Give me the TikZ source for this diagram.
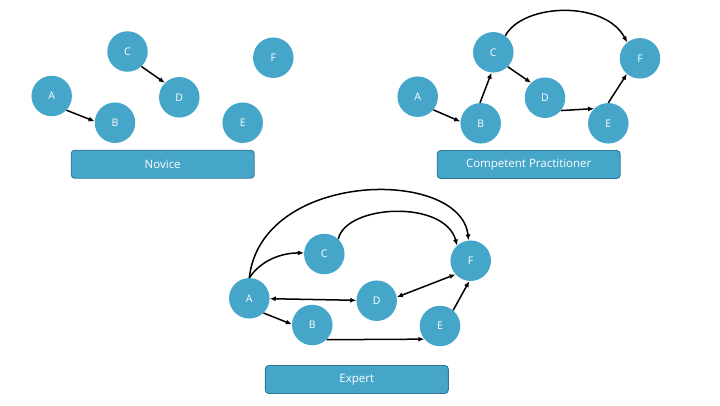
\documentclass[tikz,border=0pt]{standalone}
\usepackage{fontspec}
\setmainfont{Open Sans}
\usetikzlibrary{arrows.meta}
\definecolor{nodeblue}{HTML}{46A6C9}
\definecolor{boxborder}{HTML}{2F7896}
\tikzset{
  vtx/.style={circle, fill=nodeblue, minimum size=40.5pt, inner sep=0pt, text=white, font=\fontsize{10.5}{12}\selectfont},
  levelbox/.style={rectangle, rounded corners=3.5pt, fill=nodeblue, draw=boxborder, line width=0.9pt, minimum width=183pt, minimum height=28pt, inner sep=0pt, text=white, font=\fontsize{11.5}{13}\selectfont},
  link/.style={line width=1.5pt, -{Latex[length=6pt,width=5pt]}},
  dlink/.style={line width=1.5pt, {Latex[length=6pt,width=5pt]}-{Latex[length=6pt,width=5pt]}}
}
\begin{document}
\begin{tikzpicture}[x=1pt,y=-1pt]
\useasboundingbox (0,0) rectangle (720,405);
% Novice
\node[vtx] (A1) at (51.7,96) {A};
\node[vtx] (B1) at (115,122.7) {B};
\node[vtx] (C1) at (127.5,51.5) {C};
\node[vtx] (D1) at (179.3,97.3) {D};
\node[vtx] (E1) at (242.7,122.7) {E};
\node[vtx] (F1) at (273.3,57.7) {F};
\node[levelbox] (N) at (162.7,164.2) {Novice};
\draw[link] (A1.-44) -- (B1.176);
\draw[link] (C1.-47) -- (D1.135);
% Competent
\node[vtx] (A2) at (417.7,96.7) {A};
\node[vtx] (B2) at (480.7,123.3) {B};
\node[vtx] (C2) at (493.3,52.3) {C};
\node[vtx] (D2) at (545,97.7) {D};
\node[vtx] (E2) at (608.3,123.3) {E};
\node[vtx] (F2) at (640,58.3) {F};
\node[levelbox] (CP) at (528.7,164.5) {Competent Practitioner};
\draw[link] (A2.-40) -- (B2.175);
\draw[link] (B2.92) -- (C2.265);
\draw[link] (C2.-45) -- (D2.133);
\draw[link] (D2.-39) -- (E2.134);
\draw[link] (E2.90) -- (F2.230);
\draw[link] (C2.54) .. controls +(18,-33) and +(-22,-42) .. (F2.129);
% Expert
\node[vtx] (A3) at (249.3,298.3) {A};
\node[vtx] (B3) at (312.3,325) {B};
\node[vtx] (C3) at (324.3,254) {C};
\node[vtx] (D3) at (376.7,300.7) {D};
\node[vtx] (E3) at (440,326) {E};
\node[vtx] (F3) at (470.7,260.7) {F};
\node[levelbox] (X) at (356.8,379.5) {Expert};
\draw[link] (A3.90) .. controls +(12,-108) and +(-8,-73) .. (F3.96);
\draw[link] (C3.47) .. controls +(8,-35) and +(-12,-46) .. (F3.132);
\draw[link] (A3.90) .. controls +(12,-18) and +(-22,0) .. (C3.177);
\draw[dlink] (A3) -- (D3);
\draw[dlink] (D3.10) -- (F3.222);
\draw[link] (A3.-46) -- (B3.178);
\draw[link] (B3.-46) -- (E3.220);
\draw[link] (E3.50) -- (F3.266);
\end{tikzpicture}
\end{document}
